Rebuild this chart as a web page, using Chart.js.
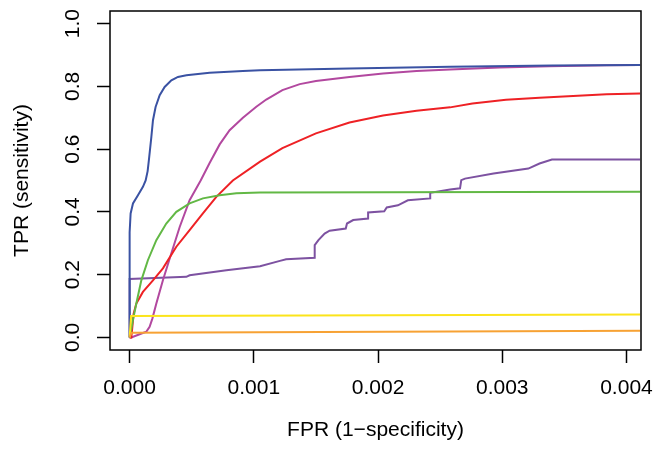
<!DOCTYPE html>
<html>
<head>
<meta charset="utf-8">
<script src="https://cdn.jsdelivr.net/npm/chart.js@4"></script>
<style>
  body { margin: 0; background: #fff; }
  .chart-container { position: relative; width: 655px; height: 452px; }
</style>
</head>
<body>
<div class="chart-container"><canvas id="myChart"></canvas></div>
<script>
// values (FPR / TPR)
const blueFpr = [0, 0, 0.000008, 0.000027, 0.000067, 0.000107, 0.000129, 0.000145, 0.000155, 0.000175, 0.000188, 0.000209, 0.000242, 0.000282, 0.000336, 0.000389, 0.000457, 0.000644, 0.000912, 0.00105, 0.00177, 0.00258, 0.0034, 0.00411];
const blueTpr = [0, 0.335, 0.395, 0.427, 0.453, 0.480, 0.500, 0.530, 0.565, 0.639, 0.692, 0.734, 0.772, 0.798, 0.819, 0.830, 0.835, 0.843, 0.849, 0.851, 0.857, 0.862, 0.866, 0.868];

const magentaFpr = [0, 0.0000137, 0.0000805, 0.000134, 0.000161, 0.000183, 0.000215, 0.000268, 0.000336, 0.000403, 0.000483, 0.000572, 0.000644, 0.000725, 0.000805, 0.000912, 0.00102, 0.0011, 0.00123, 0.00137, 0.0015, 0.00177, 0.00204, 0.00231, 0.00258, 0.00298, 0.00338, 0.00384, 0.00411];
const magentaTpr = [0, 0, 0.01, 0.018, 0.034, 0.06, 0.108, 0.182, 0.268, 0.352, 0.437, 0.50, 0.556, 0.615, 0.66, 0.70, 0.735, 0.758, 0.788, 0.807, 0.817, 0.830, 0.841, 0.849, 0.854, 0.860, 0.864, 0.867, 0.868];

const redFpr = [0, 0.0000137, 0.0000322, 0.000054, 0.000107, 0.000188, 0.000268, 0.000376, 0.000483, 0.00059, 0.000698, 0.000831, 0.00105, 0.00123, 0.0015, 0.00177, 0.00204, 0.00231, 0.00258, 0.00276, 0.00303, 0.0033, 0.00357, 0.00384, 0.00411];
const redTpr = [0, 0, 0.076, 0.108, 0.145, 0.182, 0.22, 0.289, 0.342, 0.395, 0.448, 0.50, 0.56, 0.603, 0.650, 0.685, 0.707, 0.722, 0.733, 0.745, 0.757, 0.764, 0.769, 0.775, 0.777];

const greenFpr = [0, 0.0000266, 0.000054, 0.0000942, 0.000147, 0.000215, 0.000295, 0.000376, 0.000483, 0.00059, 0.000725, 0.000859, 0.00105, 0.00411];
const greenTpr = [0, 0.055, 0.108, 0.182, 0.246, 0.31, 0.363, 0.40, 0.427, 0.443, 0.453, 0.459, 0.462, 0.464];

const purpleFpr = [0, 0, 0.000457, 0.000483, 0.000779, 0.00105, 0.00121, 0.00126, 0.00149, 0.00149, 0.00152, 0.00157, 0.00161, 0.00174, 0.00175, 0.0018, 0.00192, 0.00192, 0.00205, 0.00207, 0.00216, 0.00224, 0.00242, 0.00242, 0.00258, 0.00266, 0.00267, 0.0027, 0.00293, 0.00321, 0.0033, 0.0034, 0.00411];
const purpleTpr = [0, 0.186, 0.193, 0.198, 0.214, 0.227, 0.244, 0.249, 0.254, 0.294, 0.310, 0.331, 0.340, 0.347, 0.363, 0.374, 0.379, 0.398, 0.402, 0.414, 0.421, 0.437, 0.443, 0.461, 0.471, 0.475, 0.501, 0.506, 0.522, 0.538, 0.554, 0.567, 0.567];

const yellowFpr = [0, 0.000012, 0.00411];
const yellowTpr = [0, 0.068, 0.073];

const orangeFpr = [0, 0.000015, 0.00411];
const orangeTpr = [0, 0.015, 0.021];

const xTicks = [0, 0.001, 0.002, 0.003, 0.004];
const yTicks = [0, 0.2, 0.4, 0.6, 0.8, 1.0];

const toPoints = (xs, ys) => xs.map((x, i) => ({ x: x, y: ys[i] }));

const boxPlugin = {
  id: 'box',
  afterDatasetsDraw(chart) {
    const { ctx, chartArea } = chart;
    ctx.save();
    ctx.strokeStyle = '#000';
    ctx.lineWidth = 1.5;
    ctx.strokeRect(chartArea.left, chartArea.top, chartArea.right - chartArea.left, chartArea.bottom - chartArea.top);
    ctx.restore();
  }
};

Chart.defaults.font.family = '"Liberation Sans", Arial, Helvetica, sans-serif';
Chart.defaults.font.size = 21;
Chart.defaults.color = '#000';

const line = (pts, color) => ({
  data: pts,
  borderColor: color,
  borderWidth: 2,
  pointRadius: 0,
  tension: 0,
  fill: false
});

const ctx = document.getElementById('myChart');
new Chart(ctx, {
  type: 'line',
  data: {
    datasets: [
      line(toPoints(orangeFpr, orangeTpr), '#F7A234'),
      line(toPoints(yellowFpr, yellowTpr), '#FBE41B'),
      line(toPoints(blueFpr, blueTpr), '#3A52A3'),
      line(toPoints(greenFpr, greenTpr), '#62B845'),
      line(toPoints(redFpr, redTpr), '#EE2125'),
      line(toPoints(magentaFpr, magentaTpr), '#B2489F'),
      line(toPoints(purpleFpr, purpleTpr), '#7D52A1')
    ]
  },
  options: {
    responsive: true,
    maintainAspectRatio: false,
    animation: false,
    layout: { padding: { top: 11, right: 14, left: 0, bottom: 0 } },
    plugins: {
      legend: { display: false },
      tooltip: { enabled: false }
    },
    scales: {
      x: {
        type: 'linear',
        min: -0.000158,
        max: 0.004117,
        afterBuildTicks: (s) => { s.ticks = xTicks.map(v => ({ value: v })); },
        afterFit: (s) => {
          s.height = 102;
          s.paddingLeft = 0;
          s.paddingRight = 0;
        },
        border: { display: false },
        grid: { drawOnChartArea: false, drawTicks: true, tickLength: 13, tickColor: '#000', tickWidth: 1.5 },
        ticks: {
          padding: 13,
          maxRotation: 0,
          autoSkip: false,
          callback: (v) => v.toFixed(3)
        },
        title: { display: true, text: 'FPR (1\u2212specificity)', padding: { top: 0, bottom: 9 } }
      },
      y: {
        type: 'linear',
        min: -0.04,
        max: 1.04,
        afterBuildTicks: (s) => { s.ticks = yTicks.map(v => ({ value: v })); },
        afterFit: (s) => {
          s.width = 110;
          s.paddingTop = 0;
          s.paddingBottom = 0;
        },
        border: { display: false },
        grid: { drawOnChartArea: false, drawTicks: true, tickLength: 13, tickColor: '#000', tickWidth: 1.5 },
        ticks: {
          padding: 9,
          minRotation: 90,
          maxRotation: 90,
          crossAlign: 'center',
          autoSkip: false,
          callback: (v) => v.toFixed(1)
        },
        title: { display: true, text: 'TPR (sensitivity)', padding: { top: 10, bottom: 0 } }
      }
    }
  },
  plugins: [boxPlugin]
});
</script>
</body>
</html>
